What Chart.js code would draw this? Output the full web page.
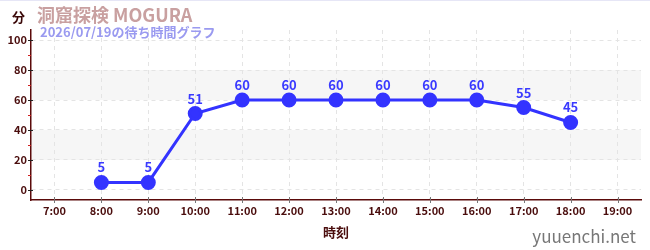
<!DOCTYPE html>
<html>
<head>
<meta charset="utf-8">
<title>洞窟探検 MOGURA</title>
<style>
body { margin: 0; background: white; }
#wrap { width: 650px; height: 250px; position: relative; }
</style>
</head>
<body>
<div id="wrap">
	<canvas id="waitchart" width="650" height="250"></canvas>
</div>
<script src="https://cdn.jsdelivr.net/npm/chart.js@4/dist/chart.umd.min.js"></script>
<script>
// chart data
var hours = ['7:00','8:00','9:00','10:00','11:00','12:00','13:00','14:00','15:00','16:00','17:00','18:00','19:00'];
var waitMinutes = [null, 5, 5, 51, 60, 60, 60, 60, 60, 60, 55, 45, null];
var yTicks = [0, 20, 40, 60, 80, 100];
var yMinorTicks = [10, 30, 50, 70, 90];
var bands = [[20, 40], [60, 80]];

var titleText = '洞窟探検 MOGURA';
var subText = '2026/07/19の待ち時間グラフ';
var unitText = '分';
var xTitle = '時刻';
var siteText = 'yuuenchi.net';

var FONT = '"Noto Sans CJK JP", "Noto Sans", sans-serif';
var tickColor = '#4a0d0d';
var lineColor = '#3333ff';

// grey bands behind the grid
var bandPlugin = {
	id: 'bands',
	beforeDraw: function(chart) {
		var c = chart.ctx, a = chart.chartArea, y = chart.scales.y;
		c.save();
		c.fillStyle = '#f6f6f6';
		bands.forEach(function(b) {
			var t = y.getPixelForValue(b[1]), btm = y.getPixelForValue(b[0]);
			c.fillRect(a.left, t, a.right - a.left, btm - t);
		});
		// thin line along the top edge
		c.fillStyle = '#e6e6f6';
		c.fillRect(0, 0, chart.width, 1);
		c.restore();
	}
};

// tick marks, labels over points, titles
var decoPlugin = {
	id: 'deco',
	afterDraw: function(chart) {
		var c = chart.ctx, a = chart.chartArea, x = chart.scales.x, y = chart.scales.y;
		c.save();
		// y major ticks
		c.lineWidth = 1;
		c.strokeStyle = '#222';
		yTicks.forEach(function(v) {
			var p = Math.round(y.getPixelForValue(v)) + 0.5;
			c.beginPath(); c.moveTo(a.left - 3, p); c.lineTo(a.left + 2, p); c.stroke();
		});
		c.strokeStyle = '#d02020';
		yMinorTicks.forEach(function(v) {
			var p = Math.round(y.getPixelForValue(v)) + 0.5;
			c.beginPath(); c.moveTo(a.left - 3, p); c.lineTo(a.left, p); c.stroke();
		});
		// x ticks
		c.strokeStyle = '#777';
		hours.forEach(function(h, i) {
			var p = Math.round(x.getPixelForValue(i)) + 0.5;
			c.beginPath(); c.moveTo(p, a.bottom - 3); c.lineTo(p, a.bottom + 3); c.stroke();
		});
		// value labels
		var meta = chart.getDatasetMeta(0);
		c.font = 'bold 13px ' + FONT;
		c.fillStyle = '#3a3aff';
		c.textAlign = 'center';
		c.textBaseline = 'alphabetic';
		meta.data.forEach(function(pt, i) {
			if (waitMinutes[i] === null) return;
			c.fillText(String(waitMinutes[i]), pt.x, pt.y - 10);
		});
		// titles
		c.textAlign = 'left';
		c.font = 'bold 13px ' + FONT;
		c.fillStyle = '#3a0808';
		c.fillText(unitText, 12, 22);
		c.font = 'bold 18px ' + FONT;
		c.fillStyle = '#c9a0a0';
		c.fillText(titleText, 37, 22);
		c.font = 'bold 13px ' + FONT;
		c.fillStyle = '#9a9af0';
		c.fillText(subText, 40, 37);
		// site name
		c.textAlign = 'right';
		c.font = '17px ' + FONT;
		c.fillStyle = '#777';
		c.fillText(siteText, 636, 243);
		c.restore();
	}
};

var ctx = document.getElementById('waitchart').getContext('2d');
var myChart = new Chart(ctx, {
	type: 'line',
	data: {
		labels: hours,
		datasets: [{
			label: '待ち時間',
			data: waitMinutes,
			borderColor: lineColor,
			backgroundColor: lineColor,
			borderWidth: 3,
			pointRadius: 6,
			pointHoverRadius: 6,
			tension: 0,
			spanGaps: false
		}]
	},
	options: {
		responsive: false,
		animation: false,
		layout: { padding: { top: 30, right: 9, left: 0, bottom: 0 } },
		plugins: { legend: { display: false }, tooltip: { enabled: false } },
		scales: {
			x: {
				offset: true,
				grid: { offset: false, drawTicks: false, color: '#e4e4e4' },
				border: { color: '#5a0a0a', width: 1.5, dash: [4, 4] },
				ticks: { color: tickColor, font: { family: FONT, size: 11, weight: 'bold' }, padding: 4, maxRotation: 0, autoSkip: false },
				title: { display: true, text: xTitle, color: tickColor, font: { family: FONT, size: 13, weight: 'bold' }, padding: { top: 6, bottom: 10 } },
				afterFit: function(s) { s.height = 50; }
			},
			y: {
				min: -6.7,
				max: 106.7,
				grid: { drawTicks: false, color: '#e4e4e4' },
				border: { color: '#5a0a0a', width: 1.5, dash: [4, 4] },
				ticks: { stepSize: 20, color: tickColor, font: { family: FONT, size: 11, weight: 'bold' }, padding: 4 },
				afterBuildTicks: function(s) { s.ticks = yTicks.map(function(v) { return { value: v }; }); },
				afterFit: function(s) { s.width = 31; }
			}
		}
	},
	plugins: [bandPlugin, decoPlugin]
});
</script>
</body>
</html>
